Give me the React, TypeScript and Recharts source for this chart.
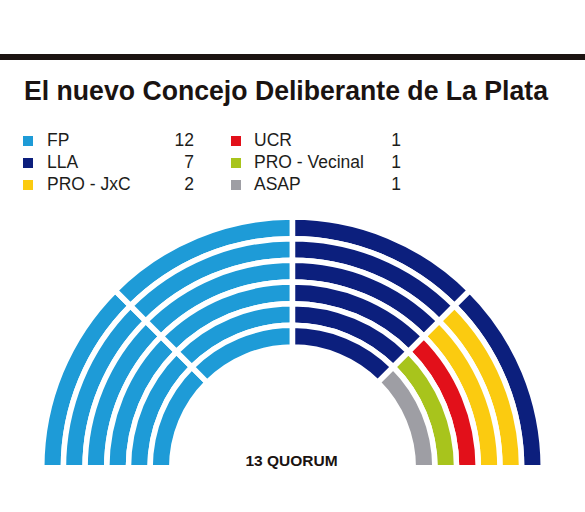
import { PieChart, Pie, Cell } from "recharts";

const partyNames = ["FP", "LLA", "PRO - JxC", "UCR", "PRO - Vecinal", "ASAP"];
const partySeats = [12, 7, 2, 1, 1, 1];
const partyColors = ["#1e9bd7", "#0c1f7d", "#fbcb10", "#e2101a", "#a8c41c", "#9e9ea4"];

const SECTORS = 4;
const RINGS = 6;
const quorumLabel = "13 QUORUM";

// seat order: sector by sector, outer ring to inner ring
const seatParty: number[] = partySeats.flatMap((n, p) => Array(n).fill(p));

const ringData = Array.from({ length: RINGS }, (_, ring) =>
    Array.from({ length: SECTORS }, (_, sector) => {
        const p = seatParty[sector * RINGS + ring];
        return { name: partyNames[p], value: 1, color: partyColors[p] };
    })
);

const GAP = 5.5;
const CX = 292.5;
const CY = 465 + GAP / 2;
const OUTER = 248 + GAP / 2;
const STEP = (248 - 123.5 + GAP) / RINGS;

const textFont = "'Liberation Sans', Arial, sans-serif";

export default function App() {
    const rows = [0, 1, 2];
    return (
        <div style={{ position: "absolute", left: 0, top: 0, width: 585, height: 512, background: "#fff", overflow: "hidden" }}>
            <PieChart width={585} height={512} margin={{ top: 0, right: 0, bottom: 0, left: 0 }} style={{ position: "absolute", left: 0, top: 0 }}>
                {ringData.map((data, ring) => (
                    <Pie
                        key={ring}
                        data={data}
                        dataKey="value"
                        cx={CX}
                        cy={CY}
                        startAngle={180}
                        endAngle={0}
                        outerRadius={OUTER - STEP * ring}
                        innerRadius={OUTER - STEP * (ring + 1)}
                        stroke="#fff"
                        strokeWidth={GAP}
                        isAnimationActive={false}
                    >
                        {data.map((d, i) => (
                            <Cell key={i} fill={d.color} />
                        ))}
                    </Pie>
                ))}
            </PieChart>
            <svg width={585} height={512} style={{ position: "absolute", left: 0, top: 0, pointerEvents: "none" }}>
                <rect x={0} y={54} width={585} height={6} fill="#1c1411" />
                <text x={24} y={100} fontFamily={textFont} fontWeight="bold" fontSize={27} fill="#1a1311" textLength={524} lengthAdjust="spacingAndGlyphs">
                    El nuevo Concejo Deliberante de La Plata
                </text>
                {[0, 1].map((col) =>
                    rows.map((r) => {
                        const p = col * 3 + r;
                        const y = 146 + r * 22;
                        return (
                            <g key={p}>
                                <rect x={col === 0 ? 23 : 231} y={y - 10} width={10} height={10} fill={partyColors[p]} />
                                <text x={col === 0 ? 47 : 254} y={y} fontFamily={textFont} fontSize={17.5} fill="#1d1d1b">
                                    {partyNames[p]}
                                </text>
                                <text x={col === 0 ? 194 : 401} y={y} textAnchor="end" fontFamily={textFont} fontSize={17.5} fill="#1d1d1b">
                                    {partySeats[p]}
                                </text>
                            </g>
                        );
                    })
                )}
                <text x={291.5} y={466} textAnchor="middle" fontFamily={textFont} fontWeight="bold" fontSize={15.5} fill="#1a1311">
                    {quorumLabel}
                </text>
            </svg>
        </div>
    );
}
